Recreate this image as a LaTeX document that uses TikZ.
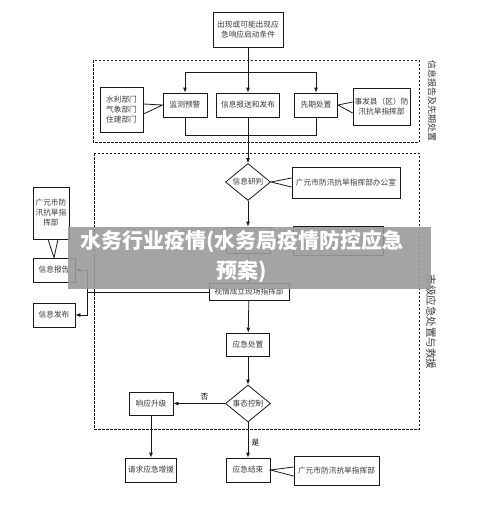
\documentclass[tikz,border=0pt]{standalone}
\usepackage{fontspec}
\newfontfamily\cjk{Noto Sans CJK SC}
\usetikzlibrary{arrows.meta, shapes.geometric}
\definecolor{cline}{HTML}{1A1A1A}
\definecolor{ctext}{HTML}{3A3A3A}
\definecolor{cband}{HTML}{9A9A9A}
\tikzset{
  every picture/.style={font=\cjk\fontsize{7.7}{10}\selectfont, line width=0.8pt},
  box/.style={draw=cline, fill=white, text=ctext, align=center, inner sep=1pt},
  decision/.style={draw=cline, fill=white, text=ctext, shape=diamond, aspect=1.2, inner sep=0pt, minimum width=45pt, minimum height=37pt},
  arrow/.style={-{Latex[length=5pt, width=4pt]}, draw=cline},
  link/.style={draw=cline},
  region/.style={draw=cline, dash pattern=on 2.5pt off 1.5pt, line width=0.6pt},
  side/.style={text=ctext, rotate=-90, font=\cjk\fontsize{9}{10}\selectfont},
  band/.style={fill=cband, fill opacity=0.9, minimum width=363pt, minimum height=62pt, inner sep=0pt},
  bandtext/.style={text=white, align=center, font=\cjk\bfseries\fontsize{21}{30}\selectfont},
}

\begin{document}
\begin{tikzpicture}[x=1pt, y=-1pt]
  \useasboundingbox (0,0) rectangle (500,522);
  % dashed stages
  \draw[region] (93,60) rectangle (419,142);
  \draw[region] (94,153) rectangle (419,429);
  \node[side] (stage1) at (432,101) {信息报告及先期处置};
  \node[side, font=\cjk\fontsize{10.5}{11}\selectfont] (stage2) at (431,322) {市级应急处置与救援};
  % top part
  \node[box, minimum width=70pt, minimum height=35pt] (start) at (248,29.5) {出现或可能出现应\\急响应启动条件};
  \node[box, minimum width=43pt, minimum height=45pt] (depts) at (121.5,110) {水利部门\\气象部门\\住建部门};
  \node[box, minimum width=44pt, minimum height=24pt] (monitor) at (185,105) {监测预警};
  \node[box, minimum width=63pt, minimum height=24pt] (report) at (248,105) {信息报送和发布};
  \node[box, minimum width=43pt, minimum height=24pt] (early) at (316,105) {先期处置};
  \node[box, minimum width=57pt, minimum height=37pt] (county) at (381.5,106.5) {事发县（区）防\\汛抗旱指挥部};
  % city stage
  \node[decision] (judge) at (248,182) {信息研判};
  \node[box, minimum width=108pt, minimum height=31pt] (office) at (346,182.5) {广元市防汛抗旱指挥部办公室};
  \node[box, minimum width=44pt, minimum height=26pt] (launch) at (248,240) {};
  \node[box, minimum width=90pt, minimum height=29pt] (hq) at (338,240.5) {};
  \node[box, minimum width=80pt, minimum height=17pt] (site) at (249,292) {视情成立现场指挥部};
  \node[box, minimum width=43pt, minimum height=23pt] (handle) at (248,344.5) {应急处置};
  \node[decision] (control) at (248,403.5) {事态控制};
  \node[box, minimum width=44pt, minimum height=23pt] (upgrade) at (151,403.5) {响应升级};
  \node[box, minimum width=51pt, minimum height=24pt] (aid) at (151,470) {请求应急增援};
  \node[box, minimum width=44pt, minimum height=24pt] (finish) at (248,470) {应急结束};
  \node[box, minimum width=85pt, minimum height=29pt] (cityhq) at (336.5,470.5) {广元市防汛抗旱指挥部};
  % left column
  \node[box, minimum width=36pt, minimum height=52pt] (leftcmd) at (51,213) {广元市防\\汛抗旱指\\挥部};
  \node[box, minimum width=42pt, minimum height=24pt] (inform) at (54,270) {信息报告};
  \node[box, minimum width=42pt, minimum height=24pt] (publish) at (54,315) {信息发布};
  % flow
  \coordinate (fork) at (248,72);
  \coordinate (join) at (248,135);
  \coordinate (bus) at (87,292);
  \draw[arrow] (start) -- (report);
  \draw[arrow] (fork) -| (monitor);
  \draw[arrow] (fork) -| (early);
  \draw[link] (monitor) |- (join);
  \draw[link] (early) |- (join);
  \draw[arrow] (report) -- (judge);
  \draw[arrow] (judge) -- (launch);
  \draw[arrow] (launch) -- (site);
  \draw[arrow] (site) -- (handle);
  \draw[arrow] (handle) -- (control);
  \draw[arrow] (control) -- node[above, pos=0.4] {否} (upgrade);
  \draw[arrow] (control) -- node[right, pos=0.58] {是} (finish);
  \draw[arrow] (upgrade) -- (aid);
  \draw[link] (site.west) -- (bus);
  \draw[arrow] (bus) |- (inform);
  \draw[arrow] (bus) |- (publish);
  % callout pointers
  \draw[link] ([yshift=6pt]depts.east) -- (monitor.west) -- ([yshift=-4pt]depts.east);
  \draw[link] ([yshift=4.5pt]county.west) -- (early.east) -- ([yshift=-6.5pt]county.west);
  \draw[link] ([yshift=4.5pt]office.west) -- (judge.east) -- ([yshift=-4.5pt]office.west);
  \draw[link] ([yshift=4pt]hq.west) -- (launch.east) -- ([yshift=-4pt]hq.west);
  \draw[link] ([yshift=3.5pt]cityhq.west) -- (finish.east) -- ([yshift=-5.5pt]cityhq.west);
  \draw[link] ([xshift=-3pt]leftcmd.south) -- (inform.north) -- ([xshift=7pt]leftcmd.south);
  % overlay banner
  \node[band] (banner) at (249.5,258) {};
  \node[bandtext] (title) at (242,257) {水务行业疫情(水务局疫情防控应急\\预案)};
\end{tikzpicture}
\end{document}
